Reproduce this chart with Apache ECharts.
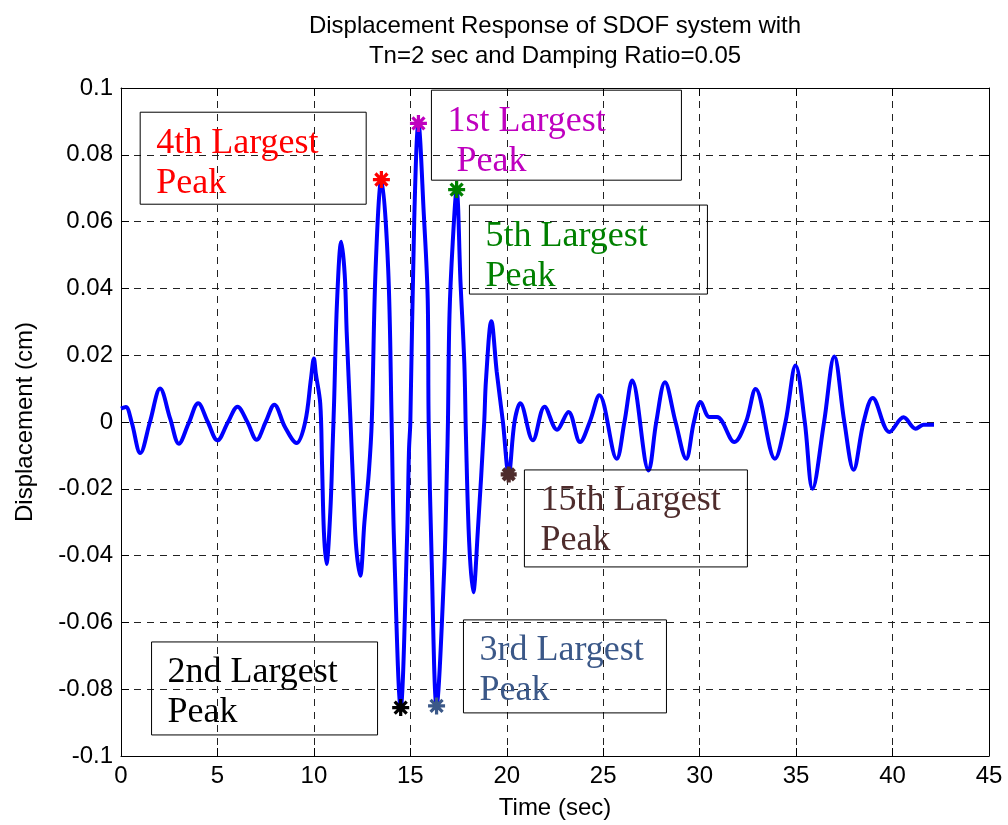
<!DOCTYPE html>
<html>
<head>
<meta charset="utf-8">
<title>Displacement Response of SDOF system</title>
<script src="https://cdn.jsdelivr.net/npm/echarts@6/dist/echarts.min.js"></script>
<style>
  html, body { margin: 0; padding: 0; background: #fff; }
  #chart { width: 1008px; height: 825px; }
</style>
</head>
<body>
<div id="chart"></div>
<script>
// Response history: time (sec) and displacement (cm)
const time = [
  0, 0.25, 0.55, 1.0, 1.5, 2.03, 2.55, 3.0, 3.5, 4.0, 4.5, 5.0, 5.55, 6.04, 6.55, 7.03, 7.5, 7.95,
  8.5, 9.1, 9.55, 9.85, 10.0, 10.1, 10.33, 10.42, 10.52, 10.65, 10.85, 10.97, 11.05, 11.2, 11.42,
  11.6, 11.7, 11.9, 12.08, 12.2, 12.4, 12.62, 12.85, 13.0, 13.2, 13.5, 13.85, 14.03, 14.15, 14.5,
  14.84, 14.93, 15.0, 15.2, 15.42, 15.7, 15.9, 15.95, 16.1, 16.36, 16.75, 16.9, 16.95, 17.03, 17.2,
  17.4, 17.6, 17.8, 17.88, 18.05, 18.26, 18.5, 18.83, 18.92, 19.2, 19.48, 19.8, 20.1, 20.4, 20.7,
  21.35, 21.96, 22.6, 23.2, 23.8, 24.3, 24.8, 25.7, 26.1, 26.5, 27.35, 27.75, 28.2, 28.75, 29.3,
  29.7, 30.05, 30.5, 30.9, 31.8, 32.4, 32.9, 33.9, 34.45, 34.97, 35.45, 35.85, 36.45, 36.98, 37.5,
  37.98, 38.5, 38.97, 39.84, 40.57, 41.2, 41.6, 42.15
];
const disp = [
  0.004, 0.0045, 0.0, -0.0093, 0.0, 0.010, 0.001, -0.0065, -0.0005, 0.0056, 0.0, -0.0055, 0.0, 0.0046, 0.0, -0.0053, 0.0, 0.0052,
  -0.0015, -0.0063, 0.0, 0.013, 0.019, 0.0145, 0.0055, -0.012, -0.033, -0.0425, -0.027, -0.0075, 0.0064, 0.036, 0.054,
  0.044, 0.027, 0.0, -0.025, -0.038, -0.046, -0.03, -0.015, 0.0, 0.046, 0.0726, 0.046, 0.0, -0.035, -0.0855,
  -0.033, -0.0085, 0.0, 0.060, 0.0894, 0.062, 0.037, 0.0, -0.04, -0.085, -0.045, -0.0135, 0.0, 0.032, 0.054,
  0.0696, 0.042, 0.0175, -0.0035, -0.036, -0.051, -0.0325, 0.0, 0.0124, 0.0302, 0.015, 0.0, -0.0157, 0.0, 0.0056,
  -0.0055, 0.0046, -0.0023, 0.003, -0.006, 0.0, 0.008, -0.011, 0.0, 0.0124, -0.0145, 0.0, 0.0119, 0.0, -0.011,
  0.0, 0.006, 0.0015, 0.0015, -0.006, 0.0, 0.0099, -0.011, 0.0, 0.0169, 0.0, -0.020, 0.0, 0.0196, 0.0,
  -0.0143, 0.0, 0.0072, -0.003, 0.0014, -0.002, -0.0008, -0.0008
];

// Marked peaks
const peakRank = ['1st', '2nd', '3rd', '4th', '5th', '15th'];
const peakTime = [15.42, 14.5, 16.36, 13.5, 17.4, 20.1];
const peakDisp = [0.0894, -0.0855, -0.085, 0.0726, 0.0696, -0.0157];

// Annotation text and the (time, displacement) of each box's upper-left corner
const noteText = ['1st Largest\n Peak', '2nd Largest\nPeak', '3rd Largest\nPeak',
                  '4th Largest\nPeak', '5th Largest\nPeak', '15th Largest\nPeak'];
const noteTime = [16.12, 1.61, 17.78, 1.02, 18.09, 20.94];
const noteDisp = [0.0992, -0.066, -0.0594, 0.0926, 0.0648, -0.0145];

// Axis ticks
const xTicks = [0, 5, 10, 15, 20, 25, 30, 35, 40, 45];
const yTicks = [-0.1, -0.08, -0.06, -0.04, -0.02, 0, 0.02, 0.04, 0.06, 0.08, 0.1];
const yTickLabels = ['-0.1', '-0.08', '-0.06', '-0.04', '-0.02', '0', '0.02', '0.04', '0.06', '0.08', '0.1'];

const titleLines = ['Displacement Response of SDOF system with', 'Tn=2 sec and Damping Ratio=0.05'];

// ---- styling ----
const peakColor = ['#bf00bf', '#000000', '#3b5888', '#ff0000', '#008000', '#4e2c2c'];
const boxW = [250, 226, 203, 226, 238, 223];
const boxH = [90, 93, 93, 92, 89, 97];
const SANS = '"Liberation Sans", Arial, sans-serif';
const SERIF = '"Liberation Serif", "Times New Roman", serif';

// asterisk marker built from four rotated bars
function asteriskPath(half) {
  let d = '';
  [0, 45, 90, 135].forEach(function (deg) {
    const a = deg * Math.PI / 180;
    const c = Math.cos(a), s = Math.sin(a);
    const pts = [[-10, -half], [10, -half], [10, half], [-10, half]].map(function (p) {
      return [10 + p[0] * c - p[1] * s, 10 + p[0] * s + p[1] * c];
    });
    d += 'M' + pts.map(function (p) { return p[0].toFixed(3) + ' ' + p[1].toFixed(3); }).join(' L') + ' Z ';
  });
  return 'path://' + d;
}
const starSymbol = asteriskPath(1.9);
const heavyStar = asteriskPath(2.6);

const grid = { left: 121, right: 19, top: 88, bottom: 69 };
const tickFont = { fontFamily: SANS, fontSize: 24, color: '#000' };
const dashed = { color: '#222', width: 1, type: [7, 6] };

const chart = echarts.init(document.getElementById('chart'), null, { renderer: 'canvas' });

const peakSeries = peakRank.map(function (rank, i) {
  const heavy = rank === '15th';
  return {
    type: 'scatter',
    name: rank + ' Largest Peak',
    data: [[peakTime[i], peakDisp[i]]],
    symbol: heavy ? heavyStar : starSymbol,
    symbolSize: heavy ? 16 : 17,
    itemStyle: { color: peakColor[i], opacity: 1 },
    z: 5,
    silent: true
  };
});

const noteSeries = {
  type: 'scatter',
  name: 'notes',
  symbolSize: 1,
  itemStyle: { color: 'rgba(0,0,0,0)', opacity: 1 },
  z: 6,
  silent: true,
  data: noteText.map(function (txt, i) {
    return {
      name: txt,
      value: [noteTime[i], noteDisp[i]],
      label: { color: peakColor[i], width: boxW[i] - 16, height: boxH[i] - 11 }
    };
  }),
  label: {
    show: true,
    position: [0, 0],
    formatter: '{b}',
    align: 'left',
    verticalAlign: 'top',
    fontFamily: SERIF,
    fontSize: 36,
    lineHeight: 40,
    padding: [11, 0, 0, 16],
    borderColor: '#000',
    borderWidth: 1,
    opacity: 1,
    overflow: 'none'
  }
};

const plotCenterX = grid.left + (1008 - grid.left - grid.right) / 2;

chart.setOption({
  animation: false,
  backgroundColor: '#fff',
  grid: grid,
  graphic: [{
    type: 'text',
    x: plotCenterX,
    y: 11,
    style: {
      text: titleLines.join('\n'),
      align: 'center',
      verticalAlign: 'top',
      font: '24px ' + SANS,
      lineHeight: 30,
      fill: '#000'
    }
  }],
  xAxis: [{
    type: 'value',
    min: xTicks[0],
    max: xTicks[xTicks.length - 1],
    interval: xTicks[1] - xTicks[0],
    name: 'Time (sec)',
    nameLocation: 'middle',
    nameGap: 40,
    nameTextStyle: tickFont,
    axisLine: { show: true, onZero: false, lineStyle: { color: '#000', width: 1 } },
    axisTick: { show: true, inside: true, length: 8, lineStyle: { color: '#000' } },
    axisLabel: Object.assign({ margin: 8 }, tickFont),
    splitLine: { show: true, lineStyle: dashed }
  }, {
    type: 'value',
    position: 'top',
    min: xTicks[0],
    max: xTicks[xTicks.length - 1],
    interval: xTicks[1] - xTicks[0],
    axisLine: { show: true, onZero: false, lineStyle: { color: '#000', width: 1 } },
    axisTick: { show: true, inside: true, length: 8, lineStyle: { color: '#000' } },
    axisLabel: { show: false },
    splitLine: { show: false }
  }],
  yAxis: [{
    type: 'value',
    min: yTicks[0],
    max: yTicks[yTicks.length - 1],
    interval: 0.02,
    name: 'Displacement (cm)',
    nameLocation: 'middle',
    nameGap: 84,
    nameRotate: 90,
    nameTextStyle: tickFont,
    axisLine: { show: true, onZero: false, lineStyle: { color: '#000', width: 1 } },
    axisTick: { show: true, inside: true, length: 8, lineStyle: { color: '#000' } },
    axisLabel: Object.assign({
      margin: 8,
      formatter: function (v) {
        let best = 0;
        yTicks.forEach(function (t, i) { if (Math.abs(t - v) < Math.abs(yTicks[best] - v)) best = i; });
        return yTickLabels[best];
      }
    }, tickFont),
    splitLine: { show: true, lineStyle: dashed }
  }, {
    type: 'value',
    position: 'right',
    min: yTicks[0],
    max: yTicks[yTicks.length - 1],
    interval: 0.02,
    axisLine: { show: true, onZero: false, lineStyle: { color: '#000', width: 1 } },
    axisTick: { show: true, inside: true, length: 8, lineStyle: { color: '#000' } },
    axisLabel: { show: false },
    splitLine: { show: false }
  }],
  series: [{
    type: 'line',
    name: 'Displacement',
    data: time.map(function (t, i) { return [t, disp[i]]; }),
    showSymbol: false,
    smooth: 0.35,
    lineStyle: { color: '#0000ff', width: 4 },
    z: 3,
    silent: true
  }].concat(peakSeries, [noteSeries])
});
</script>
</body>
</html>
